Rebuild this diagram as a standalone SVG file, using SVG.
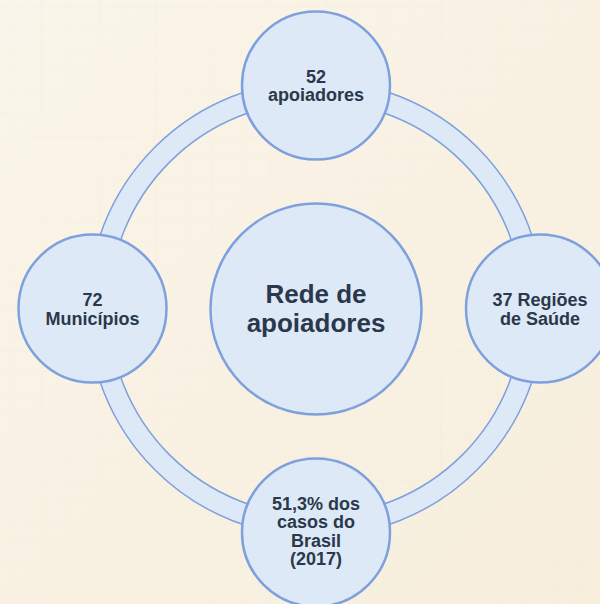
<svg xmlns="http://www.w3.org/2000/svg" width="600" height="604" viewBox="0 0 600 604">
  <defs>
    <linearGradient id="bg" x1="0" y1="0" x2="1" y2="1">
      <stop offset="0" stop-color="#FAF5EA"/>
      <stop offset="1" stop-color="#F7EEDC"/>
    </linearGradient>
    <pattern id="tex" width="57" height="43" patternUnits="userSpaceOnUse">
      <rect x="0" y="7" width="57" height="1" fill="#EDE3CF" opacity="0.18"/>
      <rect x="0" y="26" width="57" height="2" fill="#EFE6D3" opacity="0.15"/>
      <rect x="13" y="0" width="1" height="43" fill="#EDE3CF" opacity="0.15"/>
      <rect x="41" y="0" width="2" height="43" fill="#EFE6D3" opacity="0.12"/>
    </pattern>
  </defs>
  <style>
    .node { fill: #DDE9F7; stroke: #7EA0DD; stroke-width: 2.5; }
    .ring { fill: #DDE9F7; stroke: #7EA0DD; stroke-width: 1.5; fill-rule: evenodd; }
    .t { font-family: "Liberation Sans", Arial, sans-serif; font-weight: bold; fill: #2B384B; text-anchor: middle; }
    .s { font-size: 18px; }
    .b { font-size: 26px; }
  </style>
  <rect x="0" y="0" width="600" height="604" fill="url(#bg)"/>
  <rect x="0" y="0" width="600" height="604" fill="url(#tex)"/>

  <g id="connectors">
    <path class="ring" d="M 316 80.5 A 228 228 0 1 1 316 536.5 A 228 228 0 1 1 316 80.5 Z M 316 101.5 A 207 207 0 1 0 316 515.5 A 207 207 0 1 0 316 101.5 Z"/>
  </g>

  <g id="node-center">
    <circle class="node" cx="316" cy="309" r="105.5"/>
    <text class="t b" x="316" y="302.5">Rede de</text>
    <text class="t b" x="316" y="331.5">apoiadores</text>
  </g>

  <g id="node-top">
    <circle class="node" cx="316" cy="85.5" r="74"/>
    <text class="t s" x="316" y="82.5">52</text>
    <text class="t s" x="316" y="101">apoiadores</text>
  </g>

  <g id="node-right">
    <circle class="node" cx="540" cy="308.5" r="74"/>
    <text class="t s" x="540" y="306">37 Regiões</text>
    <text class="t s" x="540" y="325">de Saúde</text>
  </g>

  <g id="node-left">
    <circle class="node" cx="92.5" cy="308.5" r="74"/>
    <text class="t s" x="92.5" y="306">72</text>
    <text class="t s" x="92.5" y="325">Municípios</text>
  </g>

  <g id="node-bottom">
    <circle class="node" cx="316" cy="532.5" r="74"/>
    <text class="t s" x="316" y="509.5">51,3% dos</text>
    <text class="t s" x="316" y="528">casos do</text>
    <text class="t s" x="316" y="546.5">Brasil</text>
    <text class="t s" x="316" y="565">(2017)</text>
  </g>
</svg>
